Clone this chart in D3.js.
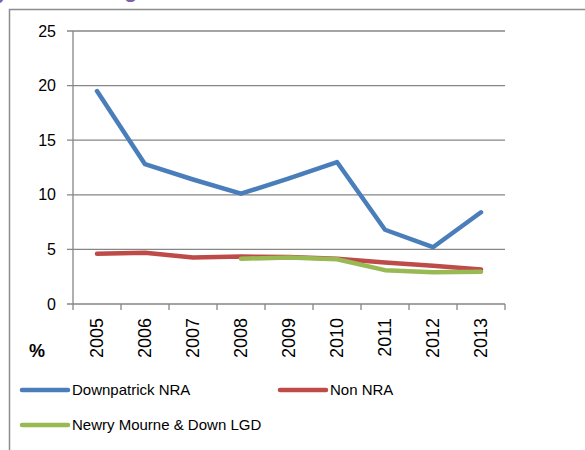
<!DOCTYPE html>
<html>
<head>
<meta charset="utf-8">
<script src="https://cdn.jsdelivr.net/npm/d3@7"></script>
<style>
  body { margin: 0; background: #fff; }
  svg { display: block; }
</style>
</head>
<body>
<script>
// chart data
var years = ["2005", "2006", "2007", "2008", "2009", "2010", "2011", "2012", "2013"];
var downpatrick = [19.5, 12.8, 11.4, 10.1, 11.5, 13.0, 6.8, 5.2, 8.4];
var nonNRA = [4.6, 4.7, 4.25, 4.35, 4.3, 4.15, 3.8, 3.5, 3.15];
var newryLGD = [null, null, null, 4.15, 4.25, 4.1, 3.1, 2.9, 2.95];
var yTicks = [0, 5, 10, 15, 20, 25];

var width = 585, height = 450;
var font = "Liberation Sans, Arial, sans-serif";

var svg = d3.select("body").append("svg")
    .attr("width", width)
    .attr("height", height);

// title above is clipped by the crop, only descenders show
svg.append("text")
    .attr("x", -4).attr("y", -2)
    .style("font-family", font).style("font-size", "22px").style("font-weight", "bold")
    .style("fill", "#7f5fb0")
    .text("y");
svg.append("text")
    .attr("x", 124).attr("y", -3)
    .style("font-family", font).style("font-size", "22px").style("font-weight", "bold")
    .style("fill", "#7f5fb0")
    .text("g");

// outer frame (runs off the right and bottom edge)
svg.append("rect")
    .attr("x", 9.5).attr("y", 9.5)
    .attr("width", 600).attr("height", 460)
    .style("fill", "none")
    .style("stroke", "#8c8c8c")
    .style("stroke-width", 1.5);

var xScale = d3.scaleBand().domain(years).range([73, 505]);
var yScale = d3.scaleLinear().domain([0, 25]).range([304, 31]);

// gridlines
svg.append("g").selectAll("line")
    .data(yTicks)
    .join("line")
    .attr("x1", 67).attr("x2", 505)
    .attr("y1", d => yScale(d)).attr("y2", d => yScale(d))
    .style("stroke", "#868686")
    .style("stroke-width", 1.3);

// y axis line
svg.append("line")
    .attr("x1", 73).attr("x2", 73)
    .attr("y1", yScale(25)).attr("y2", yScale(0))
    .style("stroke", "#868686")
    .style("stroke-width", 1.3);

// x tick marks at band edges
var edges = years.map(d => xScale(d)).concat([xScale.range()[1]]);
svg.append("g").selectAll("line")
    .data(edges)
    .join("line")
    .attr("x1", d => d).attr("x2", d => d)
    .attr("y1", yScale(0)).attr("y2", yScale(0) + 6)
    .style("stroke", "#868686")
    .style("stroke-width", 1.3);

// y tick labels
svg.append("g").selectAll("text")
    .data(yTicks)
    .join("text")
    .attr("x", 56)
    .attr("y", d => yScale(d))
    .attr("dy", "0.35em")
    .attr("text-anchor", "end")
    .style("font-family", font)
    .style("font-size", "16px")
    .style("fill", "#000")
    .text(d => d);

// x tick labels, rotated
svg.append("g").selectAll("text")
    .data(years)
    .join("text")
    .attr("transform", d => "translate(" + (xScale(d) + xScale.bandwidth() / 2) + ",318) rotate(-90)")
    .attr("dy", "0.35em")
    .attr("text-anchor", "end")
    .style("font-family", font)
    .style("font-size", "18px")
    .style("fill", "#000")
    .text(d => d);

svg.append("text")
    .attr("x", 29).attr("y", 357)
    .style("font-family", font)
    .style("font-size", "18px")
    .style("font-weight", "bold")
    .text("%");

var series = [
    { name: "Downpatrick NRA", values: downpatrick, color: "#4a7ebb" },
    { name: "Non NRA", values: nonNRA, color: "#be4b48" },
    { name: "Newry Mourne & Down LGD", values: newryLGD, color: "#98b954" }
];

var line = d3.line()
    .defined(d => d.v != null)
    .x(d => xScale(d.year) + xScale.bandwidth() / 2)
    .y(d => yScale(d.v));

series.forEach(function (s) {
    var pts = years.map((y, i) => ({ year: y, v: s.values[i] }));
    svg.append("path")
        .datum(pts)
        .attr("d", line)
        .style("fill", "none")
        .style("stroke", s.color)
        .style("stroke-width", 4.5)
        .style("stroke-linejoin", "round")
        .style("stroke-linecap", "round");
});

// legend
var legendPos = [[20, 390], [278, 390], [20, 425]];
series.forEach(function (s, i) {
    var p = legendPos[i];
    svg.append("line")
        .attr("x1", p[0] + 2).attr("x2", p[0] + 48)
        .attr("y1", p[1]).attr("y2", p[1])
        .style("stroke", s.color)
        .style("stroke-width", 4.5)
        .style("stroke-linecap", "round");
    svg.append("text")
        .attr("x", p[0] + 52).attr("y", p[1])
        .attr("dy", "0.35em")
        .style("font-family", font)
        .style("font-size", "15px")
        .style("fill", "#000")
        .text(s.name);
});
</script>
</body>
</html>
